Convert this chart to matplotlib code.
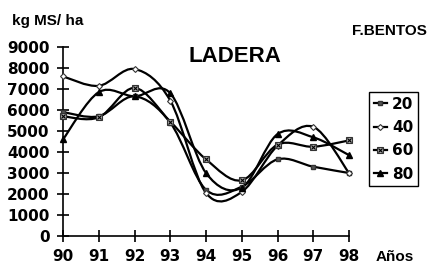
import numpy as np
import matplotlib
matplotlib.use('Agg')
import matplotlib.pyplot as plt
from matplotlib.path import Path
from matplotlib.patches import PathPatch
from matplotlib.lines import Line2D

anos = [90, 91, 92, 93, 94, 95, 96, 97, 98]
s20 = [5900, 5700, 6650, 5400, 2200, 2350, 3650, 3300, 3000]
s40 = [7600, 7150, 7950, 6450, 2050, 2100, 4300, 5200, 3000]
s60 = [5700, 5650, 7050, 5450, 3650, 2650, 4350, 4250, 4550]
s80 = [4600, 6850, 6650, 6800, 3000, 2300, 4850, 4700, 3850]
rotulos = ['20', '40', '60', '80']

W, H = 438, 268
fig = plt.figure(figsize=(W / 100, H / 100), dpi=100)
# eixo: x 90 em px 63, 98 em px 349; y 0 em px 236, 9000 em px 47
ax = fig.add_axes([63 / W, 1 - 236 / H, (349 - 63) / W, (236 - 47) / H])
ax.set_xlim(90, 98)
ax.set_ylim(0, 9000)

fonte_num = dict(family='DejaVu Sans', weight='bold', size=11)
fonte_txt = dict(family='Liberation Sans', weight='bold')


def suave(xs, ys):
    # curva suavizada tipo Excel (Catmull-Rom -> Bezier)
    p = np.column_stack([xs, ys]).astype(float)
    n = len(p)
    verts = [p[0]]
    codes = [Path.MOVETO]
    for i in range(n - 1):
        p0 = p[i - 1] if i > 0 else p[i]
        p3 = p[i + 2] if i + 2 < n else p[i + 1]
        c1 = p[i] + (p[i + 1] - p0) / 6
        c2 = p[i + 1] - (p3 - p[i]) / 6
        verts += [c1, c2, p[i + 1]]
        codes += [Path.CURVE4] * 3
    return Path(verts, codes)


estilos = [
    dict(marker='s', mfc='#555555', mec='#333333', ms=3.5),
    dict(marker='D', mfc='white', mec='#333333', ms=3, mew=0.8),
    dict(marker='s', mfc='#aaaaaa', mec='#333333', ms=4, mew=0.8),
    dict(marker='^', mfc='black', mec='black', ms=4),
]
handles = []
for ys, est in zip([s20, s40, s60, s80], estilos):
    patch = PathPatch(suave(anos, ys), fill=False, edgecolor='black', lw=1.6,
                      clip_on=False, zorder=2)
    ax.add_patch(patch)
    ax.plot(anos, ys, ls='none', clip_on=False, zorder=3, **est)
    h = Line2D([], [], color='black', lw=1.6, **est)
    if est['mfc'] == '#aaaaaa':
        ax.plot(anos, ys, ls='none', marker='x', ms=3, mec='black', mew=0.8,
                clip_on=False, zorder=4)
        h = (h, Line2D([], [], ls='none', marker='x', ms=3, mec='black', mew=0.8))
    handles.append(h)

for s in ['top', 'right']:
    ax.spines[s].set_visible(False)
for s in ['left', 'bottom']:
    ax.spines[s].set_linewidth(1.2)
ax.set_xticks(anos)
ax.set_yticks(range(0, 9001, 1000))
ax.tick_params(direction='inout', length=9, width=1.2)
ax.tick_params(axis='y', pad=5)
ax.tick_params(axis='x', pad=5)
for lab in ax.get_xticklabels() + ax.get_yticklabels():
    lab.set(**fonte_num)

fig.text(12 / W, 1 - 25 / H, 'kg MS/ ha', fontsize=11, **fonte_txt)
fig.text(352 / W, 1 - 35 / H, 'F.BENTOS', fontsize=11, **fonte_txt)
fig.text(188 / W, 1 - 61.5 / H, 'LADERA', fontsize=16, **fonte_txt)
fig.text(376 / W, 1 - 261 / H, 'Años', fontsize=11, **fonte_txt)

leg = fig.legend(handles, rotulos, loc='upper left',
                 bbox_to_anchor=(369 / W, 1 - 92 / H), borderaxespad=0,
                 prop=dict(family='DejaVu Sans', weight='bold', size=11),
                 handlelength=0.9, handletextpad=0.3, labelspacing=0.55,
                 borderpad=0.3, fancybox=False, framealpha=1)
leg.get_frame().set_edgecolor('black')
leg.get_frame().set_linewidth(1.0)

fig.savefig('out.png', dpi=100)
